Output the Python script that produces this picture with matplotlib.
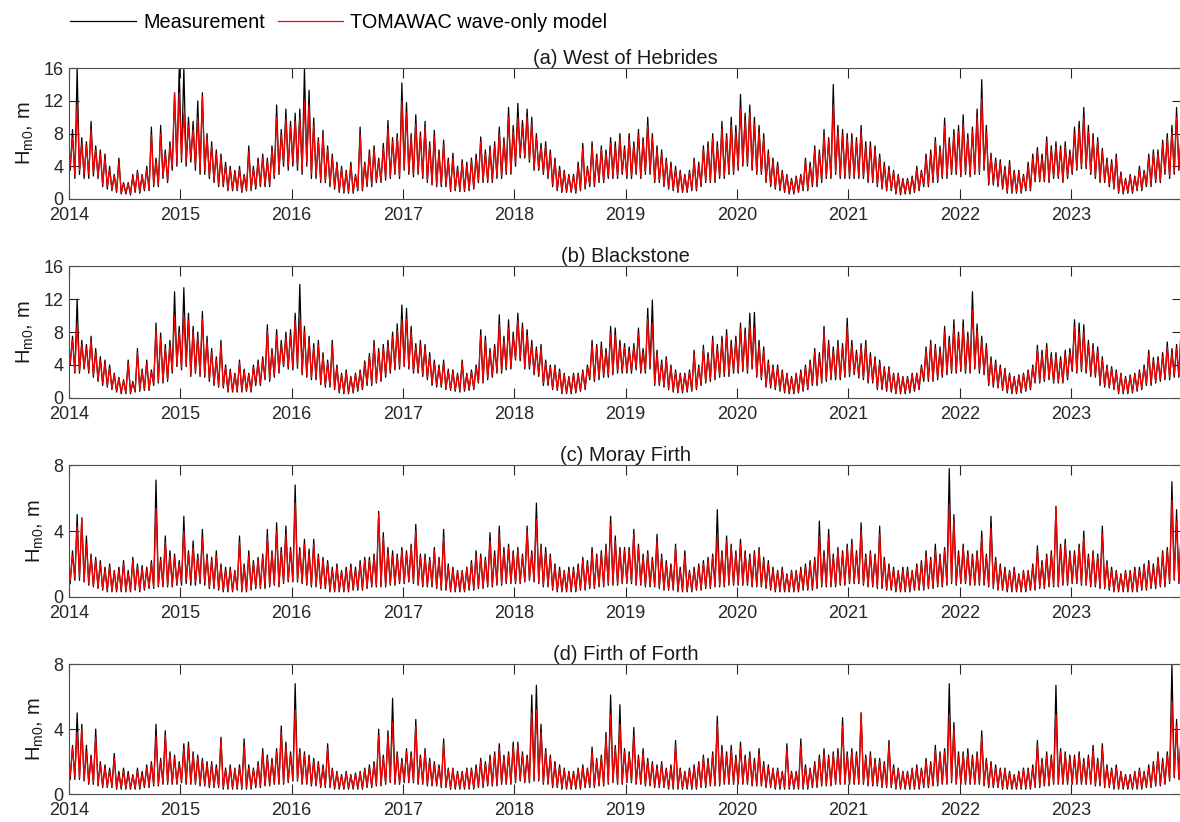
import numpy as np
import matplotlib.pyplot as plt

plt.rcParams['font.family'] = ['Liberation Sans', 'DejaVu Sans']
plt.rcParams['mathtext.fontset'] = 'custom'
plt.rcParams['mathtext.rm'] = 'Liberation Sans'
plt.rcParams['mathtext.it'] = 'Liberation Sans'

# Hm0 (m), four samples per month (trough, peak, trough, peak), one row per year 2014..2023
hebrides_obs = [
    3.5,8.5,2.5,16.0, 3.0,7.5,2.5,7.0, 2.5,9.5,2.8,6.5, 2.5,6.0,1.5,5.5, 1.2,4.0,1.0,3.0, 0.8,5.0,0.6,2.0, 0.6,2.0,0.5,3.0, 0.8,3.5,0.7,3.0, 1.0,4.0,1.0,8.8, 1.5,5.0,1.5,9.0, 2.5,6.0,2.0,7.0, 3.5,13.0,4.0,16.0,
    4.5,16.0,4.0,10.0, 4.5,9.5,3.5,12.0, 3.0,13.0,3.0,8.0, 2.5,7.0,2.0,6.0, 1.5,5.5,1.5,4.5, 1.0,4.0,1.0,3.5, 1.0,4.0,0.8,3.0, 1.0,6.5,1.0,4.0, 1.2,5.0,1.5,5.5, 1.5,5.0,1.5,6.5, 2.5,11.5,3.0,8.5, 4.0,11.0,3.5,9.5,
    4.0,10.5,3.5,11.0, 3.0,16.0,4.0,13.3, 2.5,9.9,2.5,7.5, 2.0,8.4,2.0,6.5, 1.5,5.5,1.2,4.5, 0.8,4.0,0.7,3.5, 0.7,4.5,0.7,3.0, 1.0,8.8,1.0,4.5, 1.5,6.0,1.5,6.5, 2.0,5.0,2.0,6.8, 2.3,9.6,2.5,7.5, 3.0,8.0,2.5,14.2,
    3.5,11.8,3.0,8.0, 2.7,10.3,3.0,8.2, 2.5,9.5,2.0,7.0, 1.7,8.4,1.5,6.0, 1.5,7.2,1.5,5.0, 0.9,5.6,1.0,4.0, 0.9,4.8,0.9,4.5, 1.0,5.0,1.2,5.5, 2.0,7.6,2.0,6.0, 2.0,6.5,2.0,7.0, 2.5,8.8,2.5,7.5, 3.0,11.2,3.0,9.0,
    4.0,11.7,5.0,9.6, 5.0,11.0,4.5,10.0, 3.5,8.0,3.5,6.8, 3.0,7.0,2.5,6.0, 1.5,5.0,1.0,4.0, 0.8,3.5,0.8,3.0, 0.8,3.0,0.7,4.5, 1.0,6.8,1.2,4.0, 1.5,7.0,1.5,5.5, 2.0,6.5,2.0,6.0, 2.5,7.5,2.5,7.0, 2.5,8.0,3.0,6.5,
    2.5,8.0,2.5,7.0, 3.0,8.5,2.5,7.5, 3.0,10.0,3.0,8.0, 2.0,6.5,2.0,6.0, 1.5,5.0,1.2,4.5, 1.0,4.0,0.8,3.5, 0.8,3.0,0.8,3.5, 1.0,5.0,1.0,4.5, 1.5,6.5,2.0,7.0, 2.0,8.0,2.0,7.0, 2.5,9.5,2.5,8.0, 3.0,10.0,3.0,9.0,
    3.5,12.8,4.0,10.5, 4.0,11.5,3.5,10.0, 3.0,9.0,3.0,8.0, 2.0,6.0,1.5,5.0, 1.2,4.5,1.0,3.5, 0.8,3.0,0.6,2.5, 0.6,2.8,0.8,3.0, 1.0,5.0,1.0,4.5, 1.5,6.5,1.5,6.0, 2.0,8.5,2.5,7.5, 2.5,14.0,3.0,9.0, 2.5,8.5,2.5,8.0,
    2.5,8.0,2.5,7.5, 2.5,9.0,2.5,7.0, 2.0,7.0,2.0,6.5, 1.5,5.5,1.2,4.5, 1.0,4.0,1.0,3.5, 0.6,3.0,0.5,2.5, 0.6,2.5,0.6,2.8, 0.8,4.0,1.0,3.5, 1.5,5.5,1.5,6.0, 2.0,7.5,2.0,6.5, 2.5,9.9,2.5,7.5, 3.0,8.5,3.0,9.0,
    2.7,10.3,3.0,8.0, 2.7,8.8,3.0,11.0, 3.0,14.6,3.5,9.0, 1.7,5.6,1.7,5.0, 1.5,4.8,1.2,4.0, 0.7,4.7,0.7,3.5, 0.7,3.5,0.7,3.0, 1.0,4.5,1.0,5.5, 2.1,6.3,2.1,5.5, 2.1,7.6,2.0,6.5, 2.5,7.0,2.5,6.5, 2.0,7.0,2.5,6.0,
    3.0,8.8,3.5,9.5, 3.7,11.2,3.7,9.0, 3.0,8.0,2.5,7.5, 2.0,6.2,2.0,5.0, 1.5,4.8,1.2,5.5, 0.7,3.3,0.6,2.5, 0.7,3.0,0.7,2.8, 1.0,4.0,1.0,3.5, 1.5,5.5,1.5,6.0, 2.0,6.0,2.0,7.2, 3.0,8.0,2.5,9.0, 3.0,11.2,3.5,8.0,
]
hebrides_model = [
    4.0,7.5,3.0,11.5, 3.5,6.8,3.0,6.5, 3.0,8.5,3.2,6.0, 2.8,5.5,1.8,5.0, 1.5,3.6,1.2,2.8, 1.0,4.5,0.8,1.8, 0.8,1.8,0.7,2.7, 1.0,3.2,0.9,2.8, 1.2,3.6,1.2,7.8, 1.8,4.5,1.8,8.0, 2.8,5.5,2.3,6.5, 4.0,12.9,4.5,13.0,
    5.0,10.5,4.5,9.0, 5.0,8.5,4.0,10.0, 3.5,12.5,3.5,7.5, 2.8,6.5,2.3,5.5, 1.8,5.0,1.8,4.0, 1.2,3.6,1.2,3.2, 1.2,3.6,1.0,2.8, 1.2,5.8,1.2,3.6, 1.5,4.5,1.8,5.0, 1.8,4.6,1.8,6.0, 2.8,10.0,3.3,7.8, 4.5,9.8,4.0,8.8,
    4.5,9.5,4.0,10.0, 3.5,12.0,4.5,11.5, 3.0,9.0,2.8,7.0, 2.3,7.8,2.3,6.0, 1.8,5.0,1.5,4.2, 1.0,3.6,0.9,3.2, 0.9,4.0,0.9,2.8, 1.2,8.0,1.2,4.2, 1.8,5.5,1.8,6.0, 2.3,4.6,2.3,6.2, 2.6,8.6,2.8,7.0, 3.3,7.5,2.8,12.0,
    3.8,10.5,3.3,7.5, 3.0,9.2,3.3,7.6, 2.8,8.8,2.3,6.5, 2.0,7.6,1.8,5.5, 1.8,6.6,1.8,4.6, 1.1,5.0,1.2,3.6, 1.1,4.4,1.1,4.0, 1.2,4.6,1.4,5.0, 2.3,7.0,2.3,5.5, 2.3,6.0,2.3,6.5, 2.8,8.0,2.8,7.0, 3.3,10.0,3.3,8.2,
    4.5,10.0,5.3,8.8, 5.3,10.0,4.8,9.2, 3.8,7.4,3.8,6.3, 3.3,6.4,2.8,5.5, 1.8,4.6,1.2,3.6, 1.0,3.2,1.0,2.8, 1.0,2.8,0.9,4.0, 1.2,6.2,1.4,3.7, 1.8,6.4,1.8,5.0, 2.3,6.0,2.3,5.5, 2.8,6.8,2.8,6.4, 2.8,7.4,3.3,6.0,
    2.8,7.4,2.8,6.5, 3.3,7.8,2.8,7.0, 3.3,9.0,3.3,7.4, 2.3,6.0,2.3,5.5, 1.8,4.6,1.4,4.0, 1.2,3.6,1.0,3.2, 1.0,2.8,1.0,3.2, 1.2,4.6,1.2,4.0, 1.8,6.0,2.3,6.4, 2.3,7.4,2.3,6.4, 2.8,8.6,2.8,7.4, 3.3,9.0,3.3,8.2,
    3.8,11.0,4.3,9.6, 4.3,10.5,3.8,9.2, 3.3,8.2,3.3,7.4, 2.3,5.5,1.8,4.6, 1.4,4.0,1.2,3.2, 1.0,2.8,0.8,2.3, 0.8,2.6,1.0,2.8, 1.2,4.6,1.2,4.0, 1.8,6.0,1.8,5.5, 2.3,7.8,2.8,7.0, 2.8,11.5,3.3,8.2, 2.8,7.8,2.8,7.4,
    2.8,7.4,2.8,7.0, 2.8,8.2,2.8,6.4, 2.3,6.4,2.3,6.0, 1.8,5.0,1.4,4.0, 1.2,3.6,1.2,3.2, 0.8,2.8,0.7,2.3, 0.8,2.3,0.8,2.6, 1.0,3.6,1.2,3.2, 1.8,5.0,1.8,5.5, 2.3,7.0,2.3,6.0, 2.8,9.0,2.8,7.0, 3.3,7.8,3.3,8.2,
    3.0,9.2,3.3,7.4, 3.0,8.2,3.3,10.0, 3.3,12.3,3.8,8.2, 2.0,5.2,2.0,4.6, 1.8,4.4,1.4,3.6, 0.9,4.2,0.9,3.2, 0.9,3.2,0.9,2.8, 1.2,4.0,1.2,5.0, 2.3,5.8,2.3,5.0, 2.3,7.0,2.3,6.0, 2.8,6.4,2.8,6.0, 2.3,6.4,2.8,5.5,
    3.3,8.0,3.8,8.6, 4.0,10.0,4.0,8.2, 3.3,7.4,2.8,7.0, 2.3,5.8,2.3,4.6, 1.8,4.4,1.4,5.0, 0.9,3.0,0.8,2.3, 0.9,2.8,0.9,2.6, 1.2,3.6,1.2,3.2, 1.8,5.0,1.8,5.5, 2.3,5.5,2.3,6.6, 3.3,7.4,2.8,8.2, 3.3,10.0,3.8,7.4,
]

blackstone_obs = [
    4.0,7.5,3.0,12.0, 3.0,7.0,3.5,6.5, 3.0,7.5,2.5,6.0, 2.0,5.0,1.5,4.6, 1.3,4.0,1.0,3.0, 0.7,2.5,0.5,2.2, 0.5,4.6,0.5,2.0, 0.7,6.0,0.8,3.5, 0.9,4.6,0.9,3.4, 1.5,9.1,1.8,7.9, 1.8,6.5,2.0,7.0, 3.0,12.9,3.8,8.7,
    3.4,13.4,3.8,10.3, 2.6,8.7,3.0,8.0, 2.6,10.5,2.5,7.5, 2.0,6.0,1.5,5.0, 1.3,7.0,1.2,4.0, 0.7,3.5,0.7,3.0, 0.7,4.6,0.7,3.5, 0.8,3.0,0.7,4.0, 1.5,4.6,1.5,5.0, 2.2,8.9,2.0,6.0, 2.5,8.3,3.0,7.0, 3.8,8.0,3.5,8.3,
    3.4,10.3,3.6,13.8, 2.8,8.7,2.5,7.5, 2.2,6.6,2.2,7.0, 1.6,5.5,1.3,4.6, 1.3,7.0,1.0,4.0, 0.6,3.0,0.5,3.4, 0.5,2.6,0.6,3.0, 0.8,3.4,1.0,4.5, 1.5,5.4,1.5,7.0, 1.8,6.0,2.0,6.5, 2.5,7.0,3.0,8.0, 3.4,9.0,3.5,11.3,
    3.8,10.9,3.5,8.7, 3.0,6.6,3.0,7.0, 2.6,6.5,2.2,5.5, 1.5,4.6,1.3,4.0, 1.3,4.6,1.0,3.5, 0.9,3.4,0.8,3.0, 0.7,4.6,0.8,3.0, 0.9,3.4,1.0,4.0, 1.8,8.3,1.8,7.5, 2.2,6.0,2.5,6.5, 3.0,10.1,3.0,7.5, 3.4,9.5,3.5,8.0,
    4.6,10.3,4.5,9.1, 3.5,8.3,3.5,7.0, 2.8,6.2,2.6,6.5, 1.5,4.6,1.5,4.0, 1.0,4.0,0.9,3.5, 0.5,3.0,0.5,2.6, 0.5,3.0,0.6,3.0, 0.8,3.4,1.0,4.0, 2.2,7.0,2.0,6.5, 2.2,6.8,2.5,6.0, 2.5,8.7,2.8,8.5, 3.0,7.0,3.0,6.6,
    3.0,6.2,3.0,6.6, 3.4,8.5,3.0,6.0, 3.0,10.9,3.5,11.9, 1.5,5.8,1.5,4.6, 1.3,5.0,1.0,4.0, 0.7,3.4,0.6,3.0, 0.6,3.0,0.7,3.4, 0.8,5.8,1.0,4.0, 1.5,6.4,1.8,5.5, 2.0,7.5,2.2,6.5, 2.5,7.5,2.6,8.3, 2.6,7.0,3.0,7.5,
    3.0,9.1,3.2,8.5, 3.0,10.3,3.5,10.4, 2.5,7.0,2.2,6.2, 1.3,4.6,1.2,4.0, 1.0,4.0,0.8,3.4, 0.6,3.0,0.5,2.6, 0.5,3.0,0.6,3.4, 0.8,4.0,1.0,4.6, 1.5,6.0,1.5,5.5, 1.8,8.7,2.0,7.0, 2.2,6.2,2.2,7.0, 2.2,6.6,2.5,9.7,
    2.6,7.0,2.8,5.8, 2.4,6.6,2.2,7.0, 1.8,5.5,1.8,5.0, 1.0,4.6,1.0,3.8, 0.8,3.8,0.7,3.0, 0.5,3.0,0.5,2.6, 0.5,2.6,0.6,3.0, 0.8,3.0,1.0,4.0, 2.0,6.2,2.0,7.0, 2.0,6.5,2.2,6.2, 2.5,8.7,2.8,7.5, 3.0,9.5,3.0,8.0,
    3.2,9.5,3.0,8.0, 3.0,12.9,3.5,9.0, 3.0,7.5,2.8,6.6, 1.5,5.0,1.3,4.6, 1.2,4.0,0.9,3.6, 0.6,3.0,0.5,2.6, 0.5,2.8,0.6,3.0, 0.8,3.4,1.0,4.0, 1.8,6.4,1.8,5.8, 2.0,6.6,2.2,5.5, 1.8,5.5,1.8,5.0, 1.8,5.8,2.2,6.0,
    3.2,9.5,3.0,9.1, 3.2,8.9,3.0,7.0, 2.6,6.6,2.5,6.2, 1.5,5.0,1.3,4.0, 1.2,3.8,1.0,3.4, 0.5,3.0,0.5,2.6, 0.5,2.8,0.6,3.0, 0.8,3.4,1.0,4.0, 1.5,5.8,1.5,4.9, 1.8,5.0,2.0,5.5, 2.2,6.8,2.2,6.0, 2.5,6.5,2.5,8.9,
]
blackstone_model = [
    4.3,7.0,3.3,9.0, 3.3,6.5,3.8,6.0, 3.3,7.0,2.8,5.5, 2.3,4.6,1.8,4.2, 1.5,3.6,1.2,2.8, 0.9,2.3,0.7,2.0, 0.7,4.2,0.7,1.8, 0.9,5.5,1.0,3.2, 1.1,4.2,1.1,3.1, 1.8,8.3,2.0,7.2, 2.0,6.0,2.3,6.4, 3.3,10.0,4.0,8.0,
    3.7,10.0,4.0,9.4, 2.9,8.0,3.2,7.4, 2.9,9.6,2.8,6.9, 2.3,5.5,1.8,4.6, 1.5,6.4,1.4,3.7, 0.9,3.2,0.9,2.8, 0.9,4.2,0.9,3.2, 1.0,2.8,0.9,3.7, 1.8,4.2,1.8,4.6, 2.5,8.2,2.3,5.5, 2.8,7.6,3.3,6.4, 4.0,7.4,3.8,7.6,
    3.7,9.4,3.9,9.7, 3.1,8.0,2.8,6.9, 2.5,6.1,2.5,6.4, 1.9,5.0,1.6,4.2, 1.5,6.4,1.2,3.7, 0.8,2.8,0.7,3.1, 0.7,2.4,0.8,2.8, 1.0,3.1,1.2,4.1, 1.8,5.0,1.8,6.4, 2.0,5.5,2.3,6.0, 2.8,6.4,3.3,7.4, 3.7,8.2,3.8,9.5,
    4.0,9.6,3.8,8.0, 3.3,6.1,3.3,6.4, 2.9,6.0,2.5,5.0, 1.8,4.2,1.6,3.7, 1.5,4.2,1.2,3.2, 1.1,3.1,1.0,2.8, 0.9,4.2,1.0,2.8, 1.1,3.1,1.2,3.7, 2.0,7.6,2.0,6.9, 2.5,5.5,2.8,6.0, 3.3,9.0,3.3,6.9, 3.7,8.5,3.8,7.4,
    4.8,9.4,4.8,8.4, 3.8,7.6,3.8,6.4, 3.1,5.7,2.9,6.0, 1.8,4.2,1.8,3.7, 1.2,3.7,1.1,3.2, 0.7,2.8,0.7,2.4, 0.7,2.8,0.8,2.8, 1.0,3.1,1.2,3.7, 2.5,6.4,2.3,6.0, 2.5,6.2,2.8,5.5, 2.8,7.8,3.1,7.6, 3.3,6.4,3.3,6.1,
    3.3,5.7,3.3,6.1, 3.7,7.8,3.3,5.5, 3.3,9.6,3.8,9.0, 1.8,5.3,1.8,4.2, 1.5,4.6,1.2,3.7, 0.9,3.1,0.8,2.8, 0.8,2.8,0.9,3.1, 1.0,5.3,1.2,3.7, 1.8,5.9,2.0,5.0, 2.3,6.9,2.5,6.0, 2.8,6.9,2.9,7.6, 2.9,6.4,3.3,6.9,
    3.3,8.4,3.5,7.8, 3.3,9.0,3.8,8.5, 2.8,6.4,2.5,5.7, 1.6,4.2,1.5,3.7, 1.2,3.7,1.0,3.1, 0.8,2.8,0.7,2.4, 0.7,2.8,0.8,3.1, 1.0,3.7,1.2,4.2, 1.8,5.5,1.8,5.0, 2.0,8.0,2.3,6.4, 2.5,5.7,2.5,6.4, 2.5,6.1,2.8,8.6,
    2.9,6.4,3.1,5.3, 2.7,6.1,2.5,6.4, 2.1,5.0,2.1,4.6, 1.2,4.2,1.2,3.5, 1.0,3.5,0.9,2.8, 0.7,2.8,0.7,2.4, 0.7,2.4,0.8,2.8, 1.0,2.8,1.2,3.7, 2.3,5.7,2.3,6.4, 2.3,6.0,2.5,5.7, 2.8,8.0,3.1,6.9, 3.3,8.5,3.3,7.4,
    3.5,8.6,3.3,7.4, 3.3,10.7,3.8,8.2, 3.3,6.9,3.1,6.1, 1.8,4.6,1.6,4.2, 1.4,3.7,1.1,3.3, 0.8,2.8,0.7,2.4, 0.7,2.6,0.8,2.8, 1.0,3.1,1.2,3.7, 2.0,5.9,2.0,5.3, 2.3,6.1,2.5,5.0, 2.0,5.0,2.0,4.6, 2.0,5.3,2.5,5.5,
    3.5,8.6,3.3,8.0, 3.5,8.0,3.3,6.4, 2.9,6.1,2.8,5.7, 1.8,4.6,1.6,3.7, 1.4,3.5,1.2,3.1, 0.7,2.8,0.7,2.4, 0.7,2.6,0.8,2.8, 1.0,3.1,1.2,3.7, 1.8,5.3,1.8,4.5, 2.0,4.6,2.3,5.0, 2.5,6.2,2.5,5.5, 2.8,6.0,2.8,7.8,
]

moray_obs = [
    0.8,2.8,1.0,5.0, 1.0,4.8,0.9,3.7, 0.7,2.6,0.6,2.4, 0.5,2.2,0.4,1.8, 0.3,2.0,0.3,1.6, 0.3,1.8,0.3,2.2, 0.3,1.6,0.3,2.4, 0.4,2.0,0.3,1.9, 0.4,1.8,0.5,2.2, 0.5,7.1,0.6,2.4, 0.6,3.7,0.6,2.8, 0.6,2.6,0.7,2.2,
    0.7,4.9,0.8,2.8, 0.7,3.4,0.7,2.6, 0.8,4.1,0.7,2.6, 0.5,2.4,0.5,2.8, 0.4,2.0,0.3,1.8, 0.3,1.8,0.3,1.6, 0.4,3.7,0.3,2.0, 0.3,2.8,0.4,2.2, 0.5,2.4,0.5,2.6, 0.5,4.1,0.6,2.8, 0.7,4.5,0.6,3.0, 0.8,4.3,0.9,3.0,
    0.9,6.8,0.9,3.0, 0.8,3.5,0.7,2.9, 0.6,3.5,0.6,2.6, 0.5,2.4,0.5,2.2, 0.3,1.8,0.3,2.0, 0.3,1.6,0.3,1.8, 0.3,2.0,0.4,1.8, 0.4,2.2,0.4,2.4, 0.5,2.4,0.6,2.6, 0.6,5.2,0.6,3.9, 0.6,3.0,0.7,2.8, 0.7,2.6,0.8,3.0,
    0.8,2.8,0.9,3.2, 0.8,4.4,0.7,2.6, 0.6,2.6,0.6,2.4, 0.6,3.0,0.5,2.4, 0.4,4.1,0.4,2.0, 0.3,1.8,0.3,1.6, 0.3,1.6,0.3,1.8, 0.4,2.2,0.4,2.8, 0.5,2.6,0.5,2.4, 0.6,3.9,0.6,2.8, 0.7,4.3,0.7,3.0, 0.8,3.2,0.8,2.8,
    0.8,3.0,0.8,2.6, 0.9,4.3,1.0,2.8, 0.9,5.7,0.8,3.2, 0.6,3.0,0.6,2.6, 0.4,2.0,0.3,1.8, 0.3,1.6,0.3,1.8, 0.3,1.8,0.3,2.0, 0.4,2.4,0.4,2.2, 0.5,3.0,0.5,2.6, 0.6,2.8,0.6,3.2, 0.7,4.9,0.7,3.7, 0.7,3.0,0.8,3.0,
    0.8,3.0,0.8,4.1, 0.7,3.2,0.7,2.6, 0.6,2.8,0.6,2.4, 0.6,3.8,0.5,2.6, 0.4,2.2,0.4,2.0, 0.4,3.2,0.3,1.8, 0.3,2.8,0.3,1.6, 0.3,1.8,0.4,2.0, 0.4,2.2,0.5,2.4, 0.5,2.6,0.6,5.3, 0.6,2.8,0.6,3.7, 0.7,3.2,0.7,2.8,
    0.7,3.5,0.7,2.8, 0.7,2.6,0.6,2.8, 0.6,3.0,0.6,2.4, 0.5,2.2,0.4,1.8, 0.3,1.6,0.3,1.8, 0.3,1.4,0.3,1.6, 0.3,1.6,0.3,1.8, 0.4,2.0,0.4,2.2, 0.4,2.4,0.5,4.6, 0.6,2.8,0.6,4.1, 0.6,2.6,0.6,3.0, 0.7,2.8,0.7,3.2,
    0.8,3.5,0.8,2.8, 0.8,4.5,0.7,2.6, 0.6,2.8,0.6,2.6, 0.5,4.3,0.5,2.4, 0.4,2.0,0.4,1.8, 0.3,1.6,0.3,1.8, 0.3,1.8,0.3,1.6, 0.4,2.0,0.4,2.2, 0.4,2.8,0.5,2.4, 0.5,3.2,0.6,2.6, 0.6,3.0,0.7,7.8, 0.8,5.0,0.7,2.8,
    0.8,3.2,0.8,2.8, 0.7,2.6,0.7,2.8, 0.7,4.0,0.7,2.6, 0.6,4.9,0.5,2.4, 0.4,2.0,0.4,1.8, 0.3,1.6,0.3,1.8, 0.3,1.4,0.3,1.6, 0.3,1.6,0.4,2.0, 0.4,3.1,0.5,2.2, 0.5,2.6,0.6,2.8, 0.6,5.5,0.6,3.2, 0.7,3.5,0.7,2.8,
    0.8,2.8,0.8,3.2, 0.7,4.0,0.7,2.6, 0.6,2.8,0.6,2.6, 0.5,4.3,0.5,2.2, 0.4,1.8,0.3,1.6, 0.3,1.4,0.3,1.6, 0.3,1.6,0.3,1.8, 0.3,1.8,0.4,2.0, 0.4,2.2,0.5,2.0, 0.5,2.4,0.6,2.8, 0.6,3.0,0.8,7.0, 1.0,5.3,0.8,4.1,
]
moray_model = [
    1.0,2.5,1.2,4.3, 1.2,4.8,1.0,3.2, 0.8,2.4,0.7,2.2, 0.6,2.0,0.5,1.6, 0.4,1.8,0.4,1.5, 0.4,1.6,0.4,2.0, 0.4,1.4,0.4,2.2, 0.5,1.8,0.4,1.7, 0.5,1.6,0.6,2.0, 0.6,5.4,0.7,2.2, 0.7,3.3,0.7,2.5, 0.7,2.4,0.8,2.0,
    0.9,4.0,1.0,2.6, 0.9,3.0,0.9,2.4, 1.0,3.6,0.9,2.4, 0.6,2.2,0.6,2.5, 0.5,1.8,0.4,1.6, 0.4,1.6,0.4,1.5, 0.5,3.3,0.4,1.8, 0.4,2.5,0.5,2.0, 0.6,2.2,0.6,2.4, 0.7,3.6,0.7,2.6, 0.8,4.0,0.7,2.7, 0.9,3.8,1.0,2.8,
    1.0,5.7,1.0,2.8, 0.9,3.2,0.8,2.6, 0.7,3.2,0.7,2.4, 0.6,2.2,0.6,2.0, 0.4,1.6,0.4,1.8, 0.4,1.5,0.4,1.6, 0.4,1.8,0.5,1.6, 0.5,2.0,0.5,2.2, 0.6,2.2,0.7,2.4, 0.7,5.0,0.7,3.6, 0.7,2.7,0.8,2.5, 0.8,2.4,0.9,2.8,
    0.9,2.6,1.0,3.0, 0.9,4.0,0.8,2.4, 0.7,2.4,0.7,2.2, 0.7,2.8,0.6,2.2, 0.5,3.6,0.5,1.8, 0.4,1.6,0.4,1.5, 0.4,1.5,0.4,1.7, 0.5,2.0,0.5,2.5, 0.6,2.4,0.6,2.2, 0.7,3.4,0.7,2.5, 0.8,3.8,0.8,2.7, 0.9,3.0,0.9,2.6,
    0.9,2.8,0.9,2.4, 1.0,4.0,1.1,2.6, 1.0,4.7,0.9,3.0, 0.7,2.7,0.7,2.4, 0.5,1.8,0.4,1.6, 0.4,1.5,0.4,1.6, 0.4,1.6,0.4,1.8, 0.5,2.2,0.5,2.0, 0.6,2.7,0.6,2.4, 0.7,2.6,0.7,3.0, 0.8,4.4,0.8,3.4, 0.8,2.8,0.9,2.8,
    0.9,2.8,0.9,3.8, 0.8,3.0,0.8,2.4, 0.7,2.6,0.7,2.2, 0.7,3.4,0.6,2.4, 0.5,2.0,0.5,1.8, 0.5,3.0,0.4,1.6, 0.4,2.5,0.4,1.5, 0.4,1.6,0.5,1.8, 0.5,2.0,0.6,2.2, 0.6,2.4,0.7,3.7, 0.7,2.6,0.7,3.4, 0.8,3.0,0.8,2.6,
    0.8,3.2,0.8,2.6, 0.8,2.4,0.7,2.6, 0.7,2.8,0.7,2.2, 0.6,2.0,0.5,1.6, 0.4,1.5,0.4,1.6, 0.4,1.3,0.4,1.5, 0.4,1.5,0.4,1.6, 0.5,1.8,0.5,2.0, 0.5,2.2,0.6,3.7, 0.7,2.5,0.7,3.6, 0.7,2.4,0.7,2.8, 0.8,2.6,0.8,3.0,
    0.9,3.2,0.9,2.6, 0.9,4.0,0.8,2.4, 0.7,2.6,0.7,2.4, 0.6,3.8,0.6,2.2, 0.5,1.8,0.5,1.6, 0.4,1.5,0.4,1.6, 0.4,1.6,0.4,1.5, 0.5,1.8,0.5,2.0, 0.5,2.5,0.6,2.2, 0.6,2.8,0.7,2.4, 0.7,2.8,0.8,5.6, 0.9,4.6,0.8,2.6,
    0.9,3.0,0.9,2.6, 0.8,2.4,0.8,2.6, 0.8,3.6,0.8,2.4, 0.7,4.2,0.6,2.2, 0.5,1.8,0.5,1.6, 0.4,1.5,0.4,1.6, 0.4,1.3,0.4,1.5, 0.4,1.5,0.5,1.8, 0.5,2.8,0.6,2.0, 0.6,2.4,0.7,2.6, 0.7,5.5,0.7,3.0, 0.8,3.2,0.8,2.6,
    0.9,2.6,0.9,3.0, 0.8,3.6,0.8,2.4, 0.7,2.6,0.7,2.4, 0.6,3.8,0.6,2.0, 0.5,1.6,0.4,1.5, 0.4,1.3,0.4,1.5, 0.4,1.5,0.4,1.6, 0.4,1.6,0.5,1.8, 0.5,2.0,0.6,1.8, 0.6,2.2,0.7,2.6, 0.7,2.8,0.9,5.9, 1.1,4.6,0.9,3.8,
]

forth_obs = [
    0.9,3.0,0.9,5.0, 0.9,4.3,0.8,3.0, 0.6,2.4,0.6,4.0, 0.5,2.0,0.4,1.8, 0.4,1.6,0.4,2.5, 0.3,1.4,0.3,1.6, 0.3,1.4,0.3,1.2, 0.3,1.6,0.3,1.4, 0.4,1.8,0.4,2.0, 0.5,4.3,0.5,2.2, 0.6,3.9,0.6,2.6, 0.6,2.4,0.6,2.0,
    0.7,3.1,0.6,3.2, 0.6,2.6,0.6,2.4, 0.5,2.2,0.5,2.0, 0.4,2.0,0.4,1.8, 0.4,3.5,0.3,1.6, 0.3,1.8,0.3,1.6, 0.3,1.8,0.3,3.4, 0.3,1.8,0.3,1.6, 0.4,2.0,0.4,2.8, 0.5,2.4,0.5,2.2, 0.6,2.8,0.6,4.2, 0.6,3.2,0.7,2.6,
    0.8,6.8,0.8,2.8, 0.6,2.6,0.6,2.4, 0.5,2.2,0.5,2.0, 0.4,1.8,0.4,3.1, 0.4,1.6,0.3,1.4, 0.3,1.2,0.3,1.4, 0.3,1.2,0.3,1.3, 0.3,1.4,0.3,1.6, 0.4,1.8,0.4,2.0, 0.5,4.0,0.5,2.4, 0.6,3.9,0.7,5.9, 0.6,2.6,0.6,2.2,
    0.7,2.8,0.7,2.6, 0.7,4.6,0.6,2.4, 0.6,2.8,0.5,2.2, 0.5,2.0,0.5,1.8, 0.4,3.4,0.4,1.6, 0.3,1.6,0.3,1.4, 0.3,1.4,0.3,1.6, 0.3,1.6,0.3,1.8, 0.4,2.2,0.4,2.0, 0.5,2.4,0.5,2.6, 0.5,3.1,0.6,2.4, 0.6,2.6,0.6,3.2,
    0.7,3.2,0.8,2.6, 0.7,2.4,0.7,6.1, 0.8,6.7,0.8,4.3, 0.6,2.8,0.6,2.4, 0.4,2.0,0.4,1.8, 0.3,1.6,0.3,1.4, 0.3,1.4,0.3,1.6, 0.3,1.8,0.4,1.6, 0.4,2.9,0.4,2.2, 0.5,2.4,0.5,3.8, 0.6,6.1,0.7,3.0, 0.6,5.5,0.6,2.8,
    0.7,2.6,0.7,4.1, 0.6,2.4,0.6,2.8, 0.5,2.2,0.5,2.0, 0.4,1.8,0.4,2.0, 0.4,1.6,0.3,1.8, 0.3,3.3,0.3,1.6, 0.3,1.4,0.3,1.6, 0.3,1.8,0.3,2.0, 0.4,2.4,0.4,2.2, 0.5,2.6,0.5,4.8, 0.5,3.0,0.6,2.6, 0.6,3.0,0.6,2.4,
    0.6,3.2,0.6,2.4, 0.6,2.6,0.5,2.2, 0.5,2.8,0.5,2.0, 0.4,1.8,0.4,1.6, 0.3,1.6,0.3,1.4, 0.3,3.1,0.3,1.4, 0.3,1.4,0.3,3.4, 0.3,1.8,0.3,1.6, 0.4,2.0,0.4,2.4, 0.5,2.8,0.5,2.4, 0.5,2.6,0.6,2.8, 0.6,4.7,0.6,2.6,
    0.6,2.8,0.6,2.6, 0.6,5.0,0.6,2.4, 0.5,2.6,0.5,2.2, 0.5,2.2,0.4,2.0, 0.4,3.3,0.4,1.8, 0.3,1.6,0.3,1.4, 0.3,1.4,0.3,1.6, 0.3,1.8,0.3,1.6, 0.4,2.2,0.4,2.0, 0.5,3.0,0.5,2.6, 0.6,2.8,0.6,6.8, 0.7,4.4,0.6,2.6,
    0.6,2.6,0.6,2.8, 0.6,2.4,0.6,2.6, 0.6,3.9,0.5,2.2, 0.4,2.0,0.4,1.8, 0.4,1.6,0.3,1.6, 0.3,1.4,0.3,1.2, 0.3,1.4,0.3,1.6, 0.3,1.6,0.3,1.8, 0.4,3.3,0.4,2.2, 0.5,2.6,0.5,2.4, 0.6,6.7,0.6,2.8, 0.6,2.6,0.6,2.4,
    0.6,2.4,0.6,2.6, 0.6,2.2,0.6,2.4, 0.6,3.0,0.5,2.2, 0.5,3.1,0.4,1.8, 0.4,1.6,0.3,1.8, 0.3,1.4,0.3,1.2, 0.3,1.2,0.3,1.4, 0.3,1.6,0.3,1.4, 0.4,1.8,0.4,2.0, 0.5,2.6,0.5,2.2, 0.6,2.6,0.8,8.0, 1.0,4.6,0.9,3.9,
]
forth_model = [
    1.1,2.8,1.1,3.8, 1.0,4.0,0.9,2.6, 0.7,2.2,0.7,3.5, 0.6,1.8,0.5,1.6, 0.5,1.4,0.5,2.2, 0.4,1.2,0.4,1.4, 0.4,1.2,0.4,1.1, 0.4,1.4,0.4,1.2, 0.5,1.6,0.5,1.8, 0.6,3.6,0.6,2.0, 0.7,3.6,0.7,2.4, 0.7,2.2,0.7,1.8,
    0.8,2.8,0.7,2.9, 0.7,2.4,0.7,2.2, 0.6,2.0,0.6,1.8, 0.5,1.8,0.5,1.6, 0.5,3.3,0.4,1.5, 0.4,1.6,0.4,1.5, 0.4,1.6,0.4,3.0, 0.4,1.6,0.4,1.5, 0.5,1.8,0.5,2.5, 0.6,2.2,0.6,2.0, 0.7,2.6,0.7,3.8, 0.7,2.9,0.8,2.4,
    0.9,5.2,0.9,2.6, 0.7,2.4,0.7,2.2, 0.6,2.0,0.6,1.8, 0.5,1.6,0.5,2.8, 0.5,1.5,0.4,1.3, 0.4,1.1,0.4,1.3, 0.4,1.1,0.4,1.2, 0.4,1.3,0.4,1.5, 0.5,1.6,0.5,1.8, 0.6,3.6,0.6,2.2, 0.7,3.6,0.8,4.4, 0.7,2.4,0.7,2.0,
    0.8,2.6,0.8,2.4, 0.8,4.2,0.7,2.2, 0.7,2.6,0.6,2.0, 0.6,1.8,0.6,1.6, 0.5,3.1,0.5,1.5, 0.4,1.5,0.4,1.3, 0.4,1.3,0.4,1.5, 0.4,1.5,0.4,1.6, 0.5,2.0,0.5,1.8, 0.6,2.2,0.6,2.4, 0.6,2.8,0.7,2.2, 0.7,2.4,0.7,2.9,
    0.8,3.0,0.9,2.4, 0.8,2.2,0.8,5.0, 0.9,5.2,0.9,3.8, 0.7,2.6,0.7,2.2, 0.5,1.8,0.5,1.6, 0.4,1.5,0.4,1.3, 0.4,1.3,0.4,1.5, 0.4,1.6,0.5,1.5, 0.5,2.6,0.5,2.0, 0.6,2.2,0.6,3.5, 0.7,4.9,0.8,2.8, 0.7,4.3,0.7,2.6,
    0.8,2.4,0.8,3.6, 0.7,2.2,0.7,2.5, 0.6,2.0,0.6,1.8, 0.5,1.6,0.5,1.8, 0.5,1.5,0.4,1.6, 0.4,3.0,0.4,1.5, 0.4,1.3,0.4,1.5, 0.4,1.6,0.4,1.8, 0.5,2.2,0.5,2.0, 0.6,2.4,0.6,4.3, 0.6,2.7,0.7,2.4, 0.7,2.7,0.7,2.2,
    0.7,2.9,0.7,2.2, 0.7,2.4,0.6,2.0, 0.6,2.5,0.6,1.8, 0.5,1.6,0.5,1.5, 0.4,1.5,0.4,1.3, 0.4,2.8,0.4,1.3, 0.4,1.3,0.4,3.0, 0.4,1.6,0.4,1.5, 0.5,1.8,0.5,2.2, 0.6,2.5,0.6,2.2, 0.6,2.4,0.7,2.5, 0.7,4.2,0.7,2.4,
    0.7,2.6,0.7,2.4, 0.7,5.0,0.7,2.2, 0.6,2.4,0.6,2.0, 0.6,2.0,0.5,1.8, 0.5,3.0,0.5,1.6, 0.4,1.5,0.4,1.3, 0.4,1.3,0.4,1.5, 0.4,1.6,0.4,1.5, 0.5,2.0,0.5,1.8, 0.6,2.7,0.6,2.4, 0.7,2.6,0.7,4.9, 0.8,4.0,0.7,2.4,
    0.7,2.4,0.7,2.5, 0.7,2.2,0.7,2.4, 0.7,3.5,0.6,2.0, 0.5,1.8,0.5,1.6, 0.5,1.5,0.4,1.5, 0.4,1.3,0.4,1.1, 0.4,1.3,0.4,1.5, 0.4,1.5,0.4,1.6, 0.5,3.0,0.5,2.0, 0.6,2.4,0.6,2.2, 0.7,4.9,0.7,2.6, 0.7,2.4,0.7,2.2,
    0.7,2.2,0.7,2.4, 0.7,2.0,0.7,2.2, 0.7,2.7,0.6,2.0, 0.6,2.8,0.5,1.6, 0.5,1.5,0.4,1.6, 0.4,1.3,0.4,1.1, 0.4,1.1,0.4,1.3, 0.4,1.5,0.4,1.3, 0.5,1.6,0.5,1.8, 0.6,2.4,0.6,2.0, 0.7,2.4,0.9,5.7, 1.1,4.2,0.9,3.6,
]

titles = ['(a) West of Hebrides', '(b) Blackstone', '(c) Moray Firth', '(d) Firth of Forth']
ylims = [16, 16, 8, 8]
yticks = [[0, 4, 8, 12, 16], [0, 4, 8, 12, 16], [0, 4, 8], [0, 4, 8]]
years = list(range(2014, 2024))

obs = [hebrides_obs, blackstone_obs, moray_obs, forth_obs]
mod = [hebrides_model, blackstone_model, moray_model, forth_model]

fig = plt.figure(figsize=(11.8, 8.22), dpi=100)
# axes boxes in figure fraction (left, bottom, width, height)
boxes = [(0.0585, 0.758, 0.9435, 0.159),
         (0.0585, 0.516, 0.9435, 0.160),
         (0.0585, 0.274, 0.9435, 0.160),
         (0.0585, 0.034, 0.9435, 0.158)]

axc = '#4d4d4d'
for i in range(4):
    ax = fig.add_axes(boxes[i])
    t = 2014 + (np.arange(len(obs[i])) + 0.5) / 48
    l1, = ax.plot(t, obs[i], color='black', lw=0.9, label='Measurement')
    l2, = ax.plot(t, mod[i], color='red', lw=0.9, label='TOMAWAC wave-only model')
    ax.set_xlim(2014, 2024)
    ax.set_ylim(0, ylims[i])
    ax.set_xticks(years)
    ax.set_xticklabels([str(y) for y in years])
    ax.set_yticks(yticks[i])
    ax.tick_params(direction='in', length=7, width=0.8, top=True, right=True,
                   labelsize=13, colors='#262626')
    ax.tick_params(axis='x', pad=6)
    ax.tick_params(axis='y', pad=4)
    for s in ax.spines.values():
        s.set_color(axc)
        s.set_linewidth(0.8)
    ax.set_title(titles[i], fontsize=14.5, pad=3, color='#1a1a1a')
    ax.set_ylabel(r'H$_{\mathrm{m0}}$, m', fontsize=14.5, labelpad=5, color='#1a1a1a')

fig.legend([l1, l2], ['Measurement', 'TOMAWAC wave-only model'], loc='upper left',
           bbox_to_anchor=(0.0445, 1.006), ncol=2, frameon=False, fontsize=14.3,
           handlelength=3.3, columnspacing=0.65, handletextpad=0.35)

plt.savefig('out.png', dpi=100)
